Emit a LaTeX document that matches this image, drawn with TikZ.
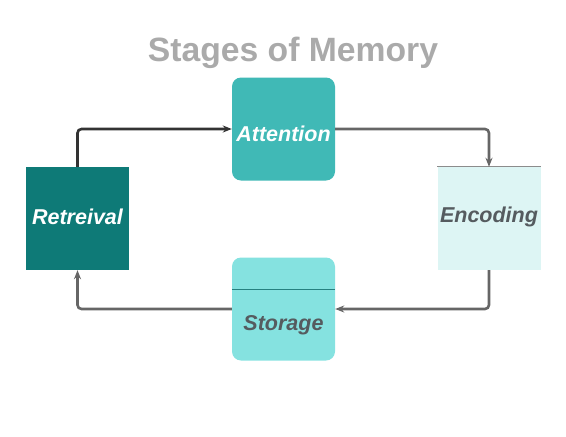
\documentclass[tikz,border=0pt]{standalone}
\usepackage{fontspec}
\setmainfont{Liberation Sans}
\usepackage{xcolor}
\usetikzlibrary{arrows.meta}

\definecolor{titlegray}{HTML}{AAAAAA}
\definecolor{attcol}{HTML}{40B9B6}
\definecolor{retcol}{HTML}{0E7A77}
\definecolor{enccol}{HTML}{DDF5F4}
\definecolor{stocol}{HTML}{85E2E0}
\definecolor{textgray}{HTML}{555B5F}
\definecolor{linegray}{HTML}{666666}

\begin{document}
\begin{tikzpicture}[x=1pt, y=-1pt,
    stage/.style={minimum width=103pt, minimum height=103pt, inner sep=0pt,
      text height=15pt, text depth=4pt,
      font=\fontsize{21.5}{25}\selectfont\bfseries\itshape},
    flow/.style={line width=2.6pt, linegray, rounded corners=4pt,
      -{Stealth[length=9pt, width=7pt]}}]
    \useasboundingbox (0,0) rectangle (566,437);
    \node [font=\fontsize{33.7}{38}\selectfont\bfseries, text=titlegray] (title) at (293,53) {Stages of Memory};
    \node [stage, fill=attcol, rounded corners=9pt, text=white, text height=25pt, text depth=0pt] (attention) at (283.5,129) {Attention};
    \node [stage, fill=retcol, text=white] (retrieval) at (77.5,218.5) {Retreival};
    \node [stage, fill=enccol, text=textgray, text depth=8pt] (encoding) at (489,218.5) {Encoding};
    \node [stage, fill=stocol, rounded corners=9pt] (storage) at (283.5,309) {};
    \node [stage, minimum size=0pt, text=textgray] (storagetext) at (283.5,324.5) {Storage};
    \draw [line width=0.8pt, color=black!45] (encoding.north west) -- (encoding.north east);
    \draw [line width=1pt, color=teal!70!gray] ([yshift=-32pt]storage.north west) -- ([yshift=-32pt]storage.north east);
    \draw [flow, color=black!80] (retrieval.north) |- (attention.west);
    \draw [flow] (attention.east) -| (encoding.north);
    \draw [flow] (encoding.south) |- (storage.east);
    \draw [flow] (storage.west) -| (retrieval.south);
  \end{tikzpicture}
\end{document}
